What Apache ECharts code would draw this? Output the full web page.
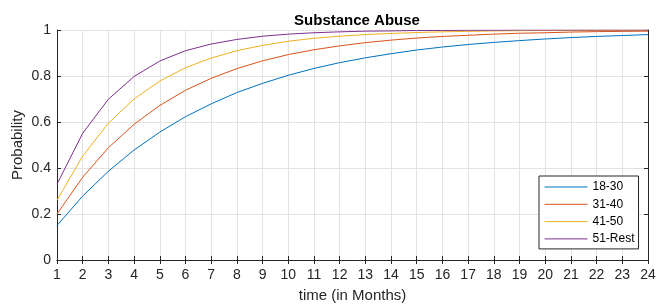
<!DOCTYPE html>
<html>
<head>
<meta charset="utf-8">
<script src="https://cdn.jsdelivr.net/npm/echarts@6/dist/echarts.min.js"></script>
<style>
html, body { margin: 0; padding: 0; background: #fff; }
#chart { width: 656px; height: 304px; }
</style>
</head>
<body>
<div id="chart"></div>
<script>
var months = [1, 2, 3, 4, 5, 6, 7, 8, 9, 10, 11, 12, 13, 14, 15, 16, 17, 18, 19, 20, 21, 22, 23, 24];
var age18to30 = [0.150, 0.278, 0.386, 0.478, 0.556, 0.623, 0.679, 0.728, 0.768, 0.803, 0.833, 0.858,
	0.879, 0.897, 0.913, 0.926, 0.937, 0.946, 0.954, 0.961, 0.967, 0.972, 0.976, 0.980];
var age31to40 = [0.200, 0.360, 0.488, 0.590, 0.672, 0.738, 0.790, 0.832, 0.866, 0.893, 0.914, 0.931,
	0.945, 0.956, 0.965, 0.972, 0.977, 0.982, 0.986, 0.988, 0.991, 0.993, 0.994, 0.995];
var age41to50 = [0.260, 0.452, 0.595, 0.700, 0.778, 0.836, 0.878, 0.910, 0.933, 0.951, 0.964, 0.973,
	0.980, 0.985, 0.989, 0.992, 0.994, 0.996, 0.997, 0.998, 0.998, 0.999, 0.999, 0.999];
var age51rest = [0.330, 0.551, 0.699, 0.798, 0.865, 0.910, 0.939, 0.959, 0.973, 0.982, 0.988, 0.992,
	0.995, 0.996, 0.998, 0.998, 0.999, 0.999, 1.000, 1.000, 1.000, 1.000, 1.000, 1.000];
var seriesNames = ['18-30', '31-40', '41-50', '51-Rest'];
var seriesColors = ['#0072BD', '#D95319', '#EDB120', '#7E2F8E'];

var font = 'Liberation Sans, Arial, Helvetica, sans-serif';
var axisColor = '#262626';

function pairs(values) {
	var out = [];
	for (var i = 0; i < months.length; i++) {
		out.push([months[i], values[i]]);
	}
	return out;
}

var allValues = [age18to30, age31to40, age41to50, age51rest];
var series = [];
for (var s = 0; s < allValues.length; s++) {
	series.push({
		name : seriesNames[s],
		type : 'line',
		symbol : 'none',
		data : pairs(allValues[s]),
		lineStyle : { width : 1, color : seriesColors[s] },
		itemStyle : { color : seriesColors[s] },
		animation : false
	});
}

var chart = echarts.init(document.getElementById('chart'));
chart.setOption({
	backgroundColor : '#fff',
	animation : false,
	title : {
		text : 'Substance Abuse',
		left : 352,
		top : 8,
		textAlign : 'center',
		textStyle : { fontFamily : font, fontSize : 15, fontWeight : 'bold', color : '#000' }
	},
	grid : { left : 57, right : 8, top : 30, bottom : 44, containLabel : false, outerBoundsMode : 'none' },
	legend : {
		data : seriesNames,
		orient : 'vertical',
		left : 539,
		top : 176,
		padding : [5, 4, 4, 5],
		itemWidth : 43,
		itemHeight : 12,
		itemGap : 5.3,
		itemStyle : { opacity : 0 },
		lineStyle : { width : 1 },
		borderColor : axisColor,
		borderWidth : 1,
		backgroundColor : '#fff',
		textStyle : { fontFamily : font, fontSize : 12, color : '#000' }
	},
	xAxis : [ {
		type : 'value',
		min : 1,
		max : 24,
		interval : 1,
		name : 'time (in Months)',
		nameLocation : 'middle',
		nameGap : 28,
		nameMoveOverlap : false,
		nameTextStyle : { fontFamily : font, fontSize : 15, color : axisColor },
		axisLine : { lineStyle : { color : axisColor, width : 1 } },
		axisTick : { inside : true, length : 4, lineStyle : { color : axisColor } },
		axisLabel : { margin : 8, fontFamily : font, fontSize : 14, color : axisColor },
		splitLine : { show : true, lineStyle : { color : '#e3e3e3', width : 1 } }
	}, {
		type : 'value',
		position : 'top',
		min : 1,
		max : 24,
		interval : 1,
		axisLine : { lineStyle : { color : axisColor, width : 1 } },
		axisTick : { inside : true, length : 4, lineStyle : { color : axisColor } },
		axisLabel : { show : false },
		splitLine : { show : false }
	} ],
	yAxis : [ {
		type : 'value',
		min : 0,
		max : 1,
		interval : 0.2,
		name : 'Probability',
		nameLocation : 'middle',
		nameGap : 32,
		nameMoveOverlap : false,
		nameTextStyle : { fontFamily : font, fontSize : 15, color : axisColor },
		axisLine : { show : true, lineStyle : { color : axisColor, width : 1 } },
		axisTick : { show : true, inside : true, length : 4, lineStyle : { color : axisColor } },
		axisLabel : {
			margin : 6, fontFamily : font, fontSize : 14, color : axisColor,
			formatter : function(v) { return String(Math.round(v * 10) / 10); }
		},
		splitLine : { show : true, lineStyle : { color : '#e3e3e3', width : 1 } }
	}, {
		type : 'value',
		position : 'right',
		min : 0,
		max : 1,
		interval : 0.2,
		axisLine : { show : true, lineStyle : { color : axisColor, width : 1 } },
		axisTick : { show : true, inside : true, length : 4, lineStyle : { color : axisColor } },
		axisLabel : { show : false },
		splitLine : { show : false }
	} ],
	series : series
});
</script>
</body>
</html>
